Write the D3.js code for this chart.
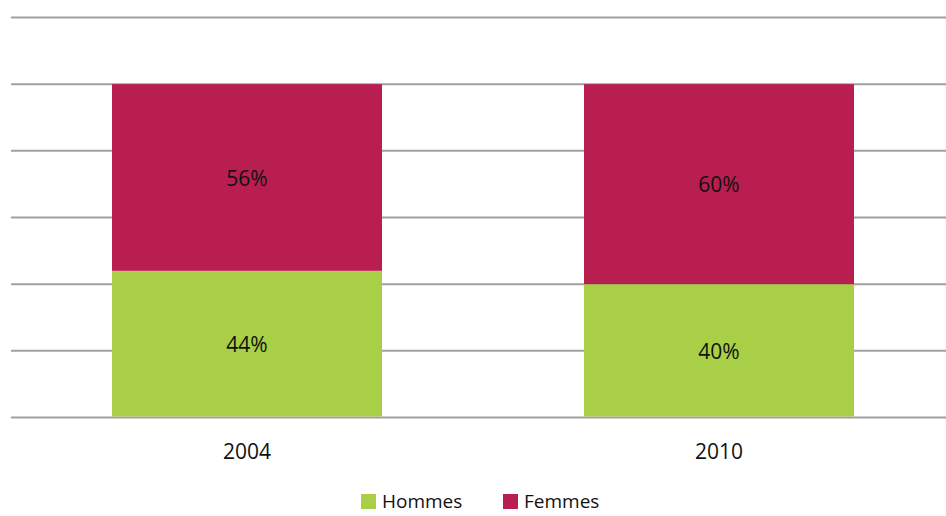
<!DOCTYPE html>
<html>
<head>
<meta charset="utf-8">
<script src="https://cdn.jsdelivr.net/npm/d3@7"></script>
<style>
  body { margin: 0; background: #fff; }
  text { font-family: "Open Sans", "Noto Sans", sans-serif; fill: #111; }
</style>
</head>
<body>
<svg width="946" height="516"></svg>
<script>
let years = ["2004", "2010"];
let hommes = [0.44, 0.40];
let femmes = [0.56, 0.60];
let seriesNames = ["Hommes", "Femmes"];
let colors = ["#a9cf46", "#b81e50"];
let gridTicks = [0, 0.2, 0.4, 0.6, 0.8, 1.0, 1.2];

let svg = d3.select("svg");

let x = d3.scaleBand()
    .domain(years)
    .range([11, 955])
    .paddingInner(0.428)
    .paddingOuter(0.214);

let y = d3.scaleLinear()
    .domain([0, 1.2])
    .range([417.5, 17.5]);

// gridlines
svg.append("g")
    .selectAll("line")
    .data(gridTicks)
    .enter().append("line")
    .attr("x1", 11)
    .attr("x2", 946)
    .attr("y1", d => y(d))
    .attr("y2", d => y(d))
    .attr("stroke", "#a0a0a0")
    .attr("stroke-width", 2);

let rows = years.map((yr, i) => ({year: yr, Hommes: hommes[i], Femmes: femmes[i]}));
let stacked = d3.stack().keys(seriesNames)(rows);

let groups = svg.append("g")
    .selectAll("g")
    .data(stacked)
    .enter().append("g")
    .attr("fill", (d, i) => colors[i]);

// bottom segment stops just above the baseline so the axis line stays visible
groups.selectAll("rect")
    .data(d => d)
    .enter().append("rect")
    .attr("x", d => x(d.data.year))
    .attr("width", x.bandwidth())
    .attr("y", d => y(d[1]))
    .attr("height", d => y(d[0]) - y(d[1]) - (d[0] === 0 ? 1 : 0));

groups.selectAll("text")
    .data(d => d)
    .enter().append("text")
    .attr("x", d => x(d.data.year) + x.bandwidth() / 2)
    .attr("y", d => (y(d[0]) + y(d[1])) / 2)
    .attr("text-anchor", "middle")
    .attr("dominant-baseline", "central")
    .attr("font-size", 21)
    .text(d => Math.round((d[1] - d[0]) * 100) + "%");

// category labels
svg.append("g")
    .selectAll("text")
    .data(years)
    .enter().append("text")
    .attr("x", d => x(d) + x.bandwidth() / 2)
    .attr("y", 451)
    .attr("text-anchor", "middle")
    .attr("dominant-baseline", "central")
    .attr("font-size", 21)
    .text(d => d);

// legend
let legendX = [361, 503];
let legend = svg.append("g")
    .selectAll("g")
    .data(seriesNames)
    .enter().append("g")
    .attr("transform", (d, i) => "translate(" + legendX[i] + ",494)");

legend.append("rect")
    .attr("width", 15)
    .attr("height", 15)
    .attr("fill", (d, i) => colors[i]);

legend.append("text")
    .attr("x", 21)
    .attr("y", 7)
    .attr("dominant-baseline", "central")
    .attr("font-size", 19)
    .text(d => d);
</script>
</body>
</html>
